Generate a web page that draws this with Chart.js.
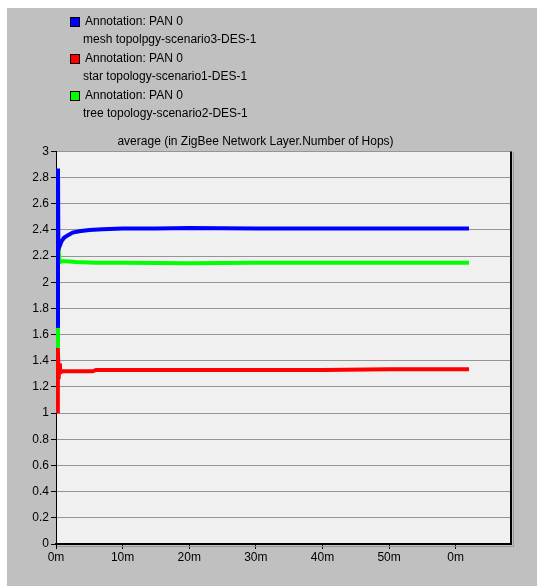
<!DOCTYPE html>
<html>
<head>
<meta charset="utf-8">
<script src="https://cdn.jsdelivr.net/npm/chart.js@4"></script>
<style>
  html, body { margin: 0; padding: 0; background: #ffffff; }
  body { width: 537px; height: 586px; position: relative; overflow: hidden;
         font-family: "Liberation Sans", Arial, sans-serif; font-size: 12px; color: #000; }
  #panel { position: absolute; left: 7px; top: 8px; width: 530px; height: 578px; background: #c0c0c0; }
  #wrap { position: absolute; left: 0; top: 0; width: 537px; height: 586px; }
  .leg { position: absolute; white-space: nowrap; line-height: 14px; }
  .sw { position: absolute; width: 8px; height: 8px; border: 1px solid #000; }
</style>
</head>
<body>
<div id="panel"></div>
<div id="wrap"><canvas id="hops-chart" width="537" height="586"></canvas></div>
<div id="legend"></div>
<script>
// Series data (x in minutes, y = average number of hops)
const meshTimes  = [0.3, 0.3, 0.36, 0.5, 0.8, 1.2, 1.8, 2.5, 3.5, 5, 7, 10, 15, 20, 30, 40, 50, 62];
const meshValues = [1.65, 2.87, 2.25, 2.27, 2.31, 2.34, 2.36, 2.38, 2.39, 2.40, 2.405, 2.41, 2.41, 2.415, 2.41, 2.41, 2.41, 2.41];

const starTimes  = [0.28, 0.28, 0.4, 0.48, 0.6, 1, 3, 5.5, 6, 10, 20, 30, 40, 50, 62];
const starValues = [1.0, 1.5, 1.26, 1.38, 1.31, 1.32, 1.32, 1.32, 1.33, 1.33, 1.33, 1.33, 1.33, 1.335, 1.335];

const treeTimes  = [0.3, 0.3, 0.42, 0.5, 0.8, 1.5, 3, 6, 10, 20, 30, 40, 50, 62];
const treeValues = [1.5, 2.25, 2.25, 2.15, 2.16, 2.16, 2.155, 2.15, 2.15, 2.145, 2.15, 2.15, 2.15, 2.15];

const seriesNames  = ['mesh topolpgy-scenario3-DES-1', 'star topology-scenario1-DES-1', 'tree topology-scenario2-DES-1'];
const seriesColors = ['#0000ff', '#ff0000', '#00ff00'];
const annotationText = 'Annotation: PAN 0';
const chartTitle = 'average (in ZigBee Network Layer.Number of Hops)';

// Build x/y points for the library
function toPoints(times, values) {
    return times.map((t, i) => ({ x: t, y: values[i] }));
}

// Legend as plain HTML (two text lines per entry)
const legendEl = document.getElementById('legend');
seriesNames.forEach((name, i) => {
    const top = 17 + i * 37;
    legendEl.insertAdjacentHTML('beforeend',
        `<div class="sw" style="left:70px;top:${top}px;background:${seriesColors[i]}"></div>` +
        `<div class="leg" style="left:85px;top:${top - 3}px">${annotationText}</div>` +
        `<div class="leg" style="left:83px;top:${top + 15}px">${name}</div>`);
});

// Plot background and right-hand frame
const plotFrame = {
    id: 'plotFrame',
    beforeDraw(chart) {
        const a = chart.chartArea;
        const ctx = chart.ctx;
        ctx.save();
        ctx.fillStyle = '#f0f0f0';
        ctx.fillRect(a.left, a.top, a.right - a.left, a.bottom - a.top);
        ctx.restore();
    },
    afterDraw(chart) {
        const a = chart.chartArea;
        const ctx = chart.ctx;
        ctx.save();
        ctx.strokeStyle = '#9a9a9a';
        ctx.lineWidth = 1;
        ctx.beginPath();
        ctx.moveTo(a.right + 2.5, a.top + 1);
        ctx.lineTo(a.right + 2.5, a.bottom + 2.5);
        ctx.lineTo(a.left + 1, a.bottom + 2.5);
        ctx.stroke();
        ctx.strokeStyle = '#000';
        ctx.lineWidth = 2;
        ctx.beginPath();
        ctx.moveTo(a.right, a.top);
        ctx.lineTo(a.right, a.bottom);
        ctx.stroke();
        ctx.restore();
    }
};

const ctx = document.getElementById('hops-chart').getContext('2d');
const hopsChart = new Chart(ctx, {
    type: 'line',
    data: {
        datasets: [
            { label: seriesNames[0], data: toPoints(meshTimes, meshValues), borderColor: seriesColors[0], order: 1 },
            { label: seriesNames[1], data: toPoints(starTimes, starValues), borderColor: seriesColors[1], order: 3 },
            { label: seriesNames[2], data: toPoints(treeTimes, treeValues), borderColor: seriesColors[2], order: 2 }
        ]
    },
    options: {
        responsive: false,
        animation: false,
        elements: {
            line: { borderWidth: 4, tension: 0, borderCapStyle: 'butt', borderJoinStyle: 'miter' },
            point: { radius: 0 }
        },
        layout: { padding: { top: 134, right: 26, left: 0, bottom: 0 } },
        plugins: {
            legend: { display: false },
            tooltip: { enabled: false },
            title: {
                display: true,
                text: chartTitle,
                color: '#000',
                font: { family: '"Liberation Sans", Arial, sans-serif', size: 12, weight: 'normal' },
                padding: { top: 0, bottom: 3 }
            }
        },
        scales: {
            x: {
                type: 'linear',
                min: 0,
                max: 68.3,
                border: { color: '#000', width: 2 },
                grid: { drawOnChartArea: false, drawTicks: true, tickLength: 5, tickColor: '#000' },
                ticks: {
                    stepSize: 10,
                    padding: 1,
                    color: '#000',
                    maxRotation: 0,
                    font: { family: '"Liberation Sans", Arial, sans-serif', size: 12 },
                    callback: function(value) {
                        return (value % 60) + 'm';
                    }
                },
                afterBuildTicks: function(scale) {
                    scale.ticks = [0, 10, 20, 30, 40, 50, 60].map(v => ({ value: v }));
                },
                afterFit: function(scale) { scale.height = 42; }
            },
            y: {
                min: 0,
                max: 3,
                border: { color: '#000', width: 1 },
                grid: { color: '#959595', lineWidth: 1, tickLength: 5, tickColor: '#000' },
                ticks: {
                    stepSize: 0.2,
                    padding: 2,
                    color: '#000',
                    font: { family: '"Liberation Sans", Arial, sans-serif', size: 12 },
                    callback: function(value) {
                        return Math.round(value * 10) / 10;
                    }
                },
                afterFit: function(scale) { scale.width = 56; }
            }
        }
    },
    plugins: [plotFrame]
});
</script>
</body>
</html>
